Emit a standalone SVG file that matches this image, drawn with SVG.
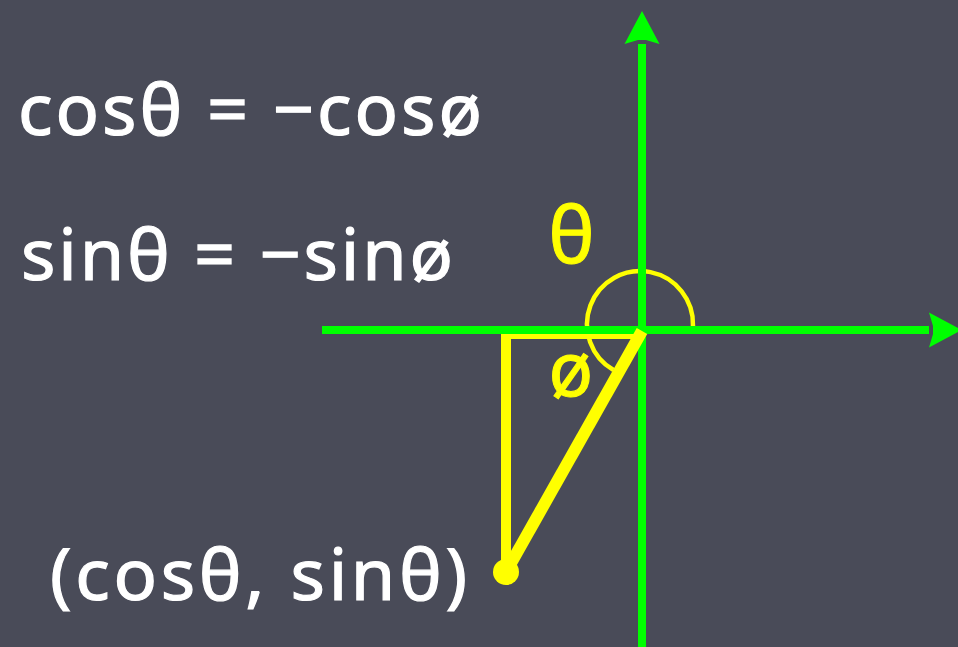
<svg xmlns="http://www.w3.org/2000/svg" width="958" height="647" viewBox="0 0 958 647">
<defs>
<style>
.txt{font-family:"Noto Sans","DejaVu Sans",sans-serif;fill:#ffffff;stroke:#ffffff;stroke-width:1.2;font-size:72px}
.ylab{font-family:"Noto Sans","DejaVu Sans",sans-serif;fill:#ffff00;stroke:#ffff00;stroke-width:1;text-anchor:middle}
.axis{stroke:#00ff00;stroke-width:8;fill:none}
.yel{stroke:#ffff00;fill:none}
</style>
<marker id="arrow" markerUnits="userSpaceOnUse" markerWidth="40" markerHeight="40" viewBox="-4 -20 40 40" refX="0" refY="0" orient="auto">
<path d="M33,0 L0,-17.5 L4,-4 L4,4 L0,17.5 Z" fill="#00ff00"/>
</marker>
</defs>
<rect x="0" y="0" width="958" height="647" fill="#494b58"/>
<g id="triangle-legs">
<polyline class="yel" points="642,334 506,334 506,572" stroke-width="10"/>
</g>
<g id="theta-arc">
<path class="yel" d="M 693 326 A 53 53 0 1 0 613.5 370" stroke-width="4.5"/>
</g>
<g id="connectors">
<line class="axis" x1="322" y1="330" x2="929" y2="330" marker-end="url(#arrow)"/>
<line class="axis" x1="642" y1="647" x2="642" y2="44" marker-end="url(#arrow)"/>
</g>
<g id="hypotenuse">
<line class="yel" x1="642" y1="331" x2="506" y2="572" stroke-width="12"/>
</g>
<g id="point">
<circle cx="506" cy="572" r="13" fill="#ffff00"/>
</g>
<g id="theta-label">
<text class="ylab" x="571.5" y="263" font-size="78">θ</text>
</g>
<g id="phi-label">
<text class="ylab" x="571" y="396" font-size="74">ø</text>
</g>
<g id="equations">
<text class="txt" x="18" y="135" textLength="464" lengthAdjust="spacing">cosθ = −cosø</text>
<text class="txt" x="21" y="280" textLength="432" lengthAdjust="spacing">sinθ = −sinø</text>
</g>
<g id="point-label">
<text class="txt" x="50" y="600" textLength="417" lengthAdjust="spacing">(cosθ, sinθ)</text>
</g>
</svg>
